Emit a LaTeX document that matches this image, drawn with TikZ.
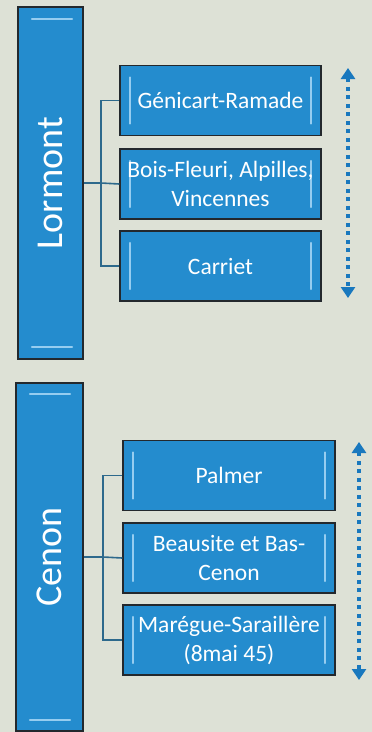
\documentclass[tikz,border=0pt]{standalone}
\usepackage{fontspec}
\setmainfont{Carlito}
\usetikzlibrary{arrows.meta}
\definecolor{bg}{RGB}{221,225,214}
\definecolor{boxblue}{RGB}{36,140,206}
\definecolor{edge}{RGB}{35,40,45}
\definecolor{hl}{RGB}{150,205,240}
\definecolor{conn}{RGB}{45,105,140}
\definecolor{arr}{RGB}{25,120,190}
\tikzset{
  bar/.style={rectangle, fill=boxblue, draw=edge, line width=1.3pt, rotate=90,
    text=white, font=\fontsize{38}{44}\selectfont, inner sep=0pt},
  itembox/.style={rectangle, fill=boxblue, draw=edge, line width=1.3pt,
    minimum height=70pt, inner sep=0pt, text=white, align=center,
    font=\fontsize{23.5}{29}\selectfont,
    path picture={
      \draw[hl, line width=2.2pt, line cap=round]
        ([xshift=10pt,yshift=-12pt]path picture bounding box.north west) --
        ([xshift=10pt,yshift=12pt]path picture bounding box.south west);
      \draw[hl, line width=2.2pt, line cap=round]
        ([xshift=-10pt,yshift=-12pt]path picture bounding box.north east) --
        ([xshift=-10pt,yshift=12pt]path picture bounding box.south east);
    }},
  hlline/.style={hl, line width=2.2pt, line cap=round},
  link/.style={conn, line width=1.6pt},
  dotarrow/.style={arr, line width=4pt, dash pattern=on 4pt off 4.5pt,
    {Triangle[width=14pt,length=11pt]}-{Triangle[width=14pt,length=11pt]}}
}
\begin{document}
\begin{tikzpicture}[x=1pt,y=1pt]
\useasboundingbox (0,0) rectangle (372,-732);
\fill[bg] (0,0) rectangle (372,-732);

% ---------- Lormont ----------
\node[bar, minimum width=352pt, minimum height=65pt] (lor) at (50.5,-183) {Lormont};
\draw[hlline] (32,-19) -- (72,-19);
\draw[hlline] (32,-347) -- (72,-347);

\node[itembox, minimum width=201pt] (g1) at (220.5,-100.5) {Génicart-Ramade};
\node[itembox, minimum width=201pt] (g2) at (220.5,-184) {Bois-Fleuri, Alpilles,\\Vincennes};
\node[itembox, minimum width=201pt] (g3) at (220.5,-266) {Carriet};

\coordinate (j1) at (101,-183);
\draw[link] (lor.south) -- (j1);
\draw[link] (g1.west) -| (j1) |- (g3.west);
\draw[link] (j1) -- (g2.west);

\coordinate (a1t) at (348,-68);
\coordinate (a1b) at (348,-298);
\draw[dotarrow] (a1t) -- (a1b);

% ---------- Cenon ----------
\node[bar, minimum width=348pt, minimum height=67pt] (cen) at (49.5,-557) {Cenon};
\draw[hlline] (30,-394) -- (70,-394);
\draw[hlline] (30,-720) -- (70,-720);

\node[itembox, minimum width=212pt] (c1) at (229,-475.5) {Palmer};
\node[itembox, minimum width=212pt] (c2) at (229,-558) {Beausite et Bas-\\Cenon};
\node[itembox, minimum width=212pt] (c3) at (229,-640) {Marégue-Saraillère\\(8mai 45)};

\coordinate (j2) at (103,-557);
\draw[link] (cen.south) -- (j2);
\draw[link] (c1.west) -| (j2) |- (c3.west);
\draw[link] (j2) -- (c2.west);

\coordinate (a2t) at (359,-442);
\coordinate (a2b) at (359,-680);
\draw[dotarrow] (a2t) -- (a2b);
\end{tikzpicture}
\end{document}
